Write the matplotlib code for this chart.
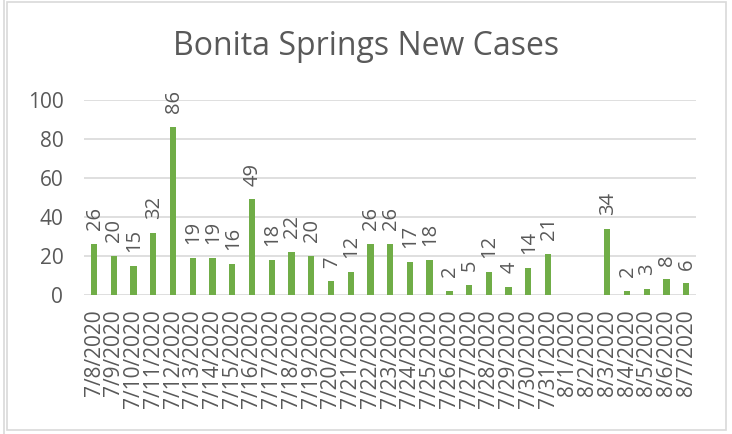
import matplotlib
matplotlib.use("Agg")
import matplotlib.pyplot as plt
from matplotlib.lines import Line2D
from matplotlib.patches import Rectangle
import numpy as np

# data (None = no bar)
dates = ['7/8/2020', '7/9/2020', '7/10/2020', '7/11/2020', '7/12/2020', '7/13/2020',
         '7/14/2020', '7/15/2020', '7/16/2020', '7/17/2020', '7/18/2020', '7/19/2020',
         '7/20/2020', '7/21/2020', '7/22/2020', '7/23/2020', '7/24/2020', '7/25/2020',
         '7/26/2020', '7/27/2020', '7/28/2020', '7/29/2020', '7/30/2020', '7/31/2020',
         '8/1/2020', '8/2/2020', '8/3/2020', '8/4/2020', '8/5/2020', '8/6/2020', '8/7/2020']
new_cases = [26, 20, 15, 32, 86, 19, 19, 16, 49, 18, 22, 20, 7, 12, 26, 26, 17, 18,
             2, 5, 12, 4, 14, 21, None, None, 34, 2, 3, 8, 6]
y_ticks = [0, 20, 40, 60, 80, 100]

GREEN = '#70AD47'
TEXT = '#595959'
GRID = '#D9D9D9'

plt.rcParams['font.family'] = ['Open Sans', 'DejaVu Sans']

fig = plt.figure(figsize=(7.32, 4.34), dpi=100)
ax = fig.add_axes([0.115, 0.320, 0.836, 0.450])

x = np.arange(len(dates))
heights = [v if v is not None else 0 for v in new_cases]
ax.bar(x, heights, width=0.32, color=GREEN, zorder=3)

for xi, v in zip(x, new_cases):
    if v is None:
        continue
    ax.annotate(str(v), (xi, v), xytext=(0.5, 10), textcoords='offset points',
                rotation=90, ha='center', va='bottom', fontsize=14.5, color=TEXT)

ax.set_xlim(-0.5, len(dates) - 0.5)
ax.set_ylim(0, 100)
ax.set_yticks(y_ticks)
ax.set_xticks(x)
ax.set_xticklabels(dates, rotation=90, fontsize=15, color=TEXT)
ax.tick_params(axis='y', length=0, pad=15, labelsize=15, labelcolor=TEXT)
ax.tick_params(axis='x', length=0, pad=10)
ax.grid(axis='y', color=GRID, linewidth=1.2, zorder=0)
for s in ax.spines.values():
    s.set_visible(False)

fig.text(0.5, 0.892, 'Bonita Springs New Cases', ha='center', va='center',
         fontsize=23, color=TEXT)

# chart frame
fig.patches.append(Rectangle((7 / 732, 4 / 434), 719 / 732, 428 / 434,
                             transform=fig.transFigure, fill=False,
                             edgecolor=GRID, linewidth=1.2))
fig.lines.append(Line2D([4 / 732, 4 / 732], [0, 1], transform=fig.transFigure,
                        color=GRID, linewidth=1.2))

plt.savefig('out.png', dpi=100)
plt.close()
